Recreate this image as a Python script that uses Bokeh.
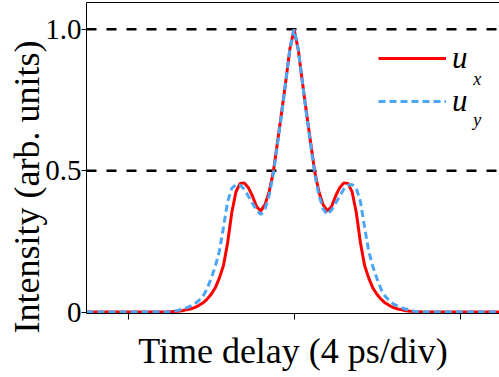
from bokeh.plotting import figure
from bokeh.models import Span, Label, Legend, LegendItem, FixedTicker, Range1d, LinearAxis, Title
from bokeh.embed import file_html
from bokeh.resources import INLINE

# time axis (ps, 4 ps per division)
time_ps = [-5.0, -4.9, -4.8, -4.7, -4.6, -4.5, -4.4, -4.3, -4.2, -4.1,
           -4.0, -3.9, -3.8, -3.7, -3.6, -3.5, -3.4, -3.3, -3.2, -3.1,
           -3.0, -2.9, -2.8, -2.7, -2.6, -2.5, -2.4, -2.3, -2.2, -2.1,
           -2.0, -1.9, -1.8, -1.7, -1.6, -1.5, -1.4, -1.3, -1.2, -1.1,
           -1.0, -0.9, -0.8, -0.7, -0.6, -0.5, -0.4, -0.3, -0.2, -0.1,
           0.0,
           0.1, 0.2, 0.3, 0.4, 0.5, 0.6, 0.7, 0.8, 0.9, 1.0,
           1.1, 1.2, 1.3, 1.4, 1.5, 1.6, 1.7, 1.8, 1.9, 2.0,
           2.1, 2.2, 2.3, 2.4, 2.5, 2.6, 2.7, 2.8, 2.9, 3.0,
           3.1, 3.2, 3.3, 3.4, 3.5, 3.6, 3.7, 3.8, 3.9, 4.0,
           4.1, 4.2, 4.3, 4.4, 4.5, 4.6, 4.7, 4.8, 4.9, 5.0]

u_x = [0, 0, 0, 0, 0, 0, 0, 0, 0, 0,
       0, 0, 0, 0, 0, 0, 0, 0, 0, 0,
       0.001, 0.002, 0.003, 0.005, 0.008, 0.011, 0.016, 0.023, 0.032, 0.045,
       0.062, 0.085, 0.120, 0.165, 0.245, 0.352, 0.425, 0.455, 0.457, 0.440,
       0.410, 0.372, 0.358, 0.380, 0.425, 0.495, 0.600, 0.705, 0.815, 0.930,
       1.000,
       0.930, 0.815, 0.705, 0.600, 0.495, 0.425, 0.380, 0.358, 0.372, 0.410,
       0.440, 0.457, 0.455, 0.425, 0.352, 0.245, 0.165, 0.120, 0.085, 0.062,
       0.045, 0.032, 0.023, 0.016, 0.011, 0.008, 0.005, 0.003, 0.002, 0.001,
       0, 0, 0, 0, 0, 0, 0, 0, 0, 0,
       0, 0, 0, 0, 0, 0, 0, 0, 0, 0]

u_y = [0, 0, 0, 0, 0, 0, 0, 0, 0, 0,
       0, 0, 0, 0, 0, 0, 0, 0, 0, 0,
       0.001, 0.003, 0.006, 0.010, 0.015, 0.021, 0.028, 0.040, 0.055, 0.080,
       0.118, 0.160, 0.215, 0.300, 0.390, 0.438, 0.451, 0.449, 0.435, 0.410,
       0.385, 0.360, 0.345, 0.365, 0.413, 0.487, 0.592, 0.700, 0.815, 0.930,
       1.000,
       0.930, 0.815, 0.700, 0.592, 0.487, 0.413, 0.365, 0.345, 0.360, 0.385,
       0.410, 0.435, 0.449, 0.451, 0.438, 0.390, 0.300, 0.215, 0.160, 0.118,
       0.080, 0.055, 0.040, 0.028, 0.021, 0.015, 0.010, 0.006, 0.003, 0.001,
       0, 0, 0, 0, 0, 0, 0, 0, 0, 0,
       0, 0, 0, 0, 0, 0, 0, 0, 0, 0]

x_ticks = [-4, 0, 4]
x_tick_labels = {-4: "", 0: "", 4: ""}
y_ticks = [0, 0.5, 1.0]
y_tick_labels = {0: "0", 0.5: "0.5", 1: "1.0"}
ref_levels = [0.5, 1.0]
series_names = ["u", "u"]
subscripts = ["x", "y"]
x_title = "Time delay (4 ps/div)"
y_title = "Intensity (arb. units)"

SERIF = "Liberation Serif"

p = figure(width=499, height=377, output_backend="svg", toolbar_location=None,
           x_range=Range1d(-5.0, 4.95), y_range=Range1d(-0.005, 1.095),
           min_border_left=86, min_border_right=0, min_border_top=2,
           min_border_bottom=64)
p.outline_line_color = None
p.background_fill_color = "white"
p.border_fill_color = "white"
p.xgrid.grid_line_color = None
p.ygrid.grid_line_color = None

for lvl in ref_levels:
    p.add_layout(Span(location=lvl, dimension="width", line_color="black",
                      line_width=2.5, line_dash="10 10", level="underlay"))

r_x = p.line(time_ps, u_x, line_color="#ff0000", line_width=3)
r_y = p.line(time_ps, u_y, line_color="#4da6f5", line_width=3, line_dash="7 4")

# axes
xa = p.xaxis[0]
xa.ticker = FixedTicker(ticks=x_ticks)
xa.major_label_overrides = x_tick_labels
xa.major_label_text_font = SERIF
xa.major_label_text_font_size = "10px"
xa.major_label_standoff = 0
xa.minor_tick_line_color = None
xa.major_tick_in = 0
xa.major_tick_out = 6
xa.axis_line_color = "black"
xa.major_tick_line_color = "black"
xa.axis_label = x_title
xa.axis_label_text_font = SERIF
xa.axis_label_text_font_style = "normal"
xa.axis_label_text_font_size = "36px"
xa.axis_label_text_color = "black"
xa.axis_label_standoff = 11

ya = p.yaxis[0]
ya.ticker = FixedTicker(ticks=y_ticks)
ya.major_label_overrides = y_tick_labels
ya.major_label_text_font = SERIF
ya.major_label_text_font_size = "29px"
ya.major_label_text_color = "black"
ya.major_label_standoff = 0
ya.minor_tick_line_color = None
ya.major_tick_in = 0
ya.major_tick_out = 5
ya.axis_line_color = "black"
ya.major_tick_line_color = "black"

# y title as a left-side title, started a little below the frame bottom (as in the reference)
p.add_layout(Title(text=y_title, align="left", offset=-20, standoff=-8,
                   text_font=SERIF, text_font_size="36px",
                   text_font_style="normal", text_color="black"), "left")

top = LinearAxis(ticker=FixedTicker(ticks=[]),
                 major_tick_out=0, major_tick_in=0, major_label_standoff=0,
                 minor_tick_line_color=None, axis_line_color="black")
p.add_layout(top, "above")

legend = Legend(items=[LegendItem(label=series_names[0], renderers=[r_x]),
                       LegendItem(label=series_names[1], renderers=[r_y])],
                location=(292, 194), orientation="vertical",
                glyph_width=68, glyph_height=34, label_height=34,
                label_standoff=6, spacing=7, padding=0, margin=0,
                border_line_color=None, background_fill_alpha=0,
                label_text_font=SERIF, label_text_font_style="italic",
                label_text_font_size="31px", label_text_color="black")
p.add_layout(legend)

sub_pos = [(4.32, 0.826), (4.32, 0.681)]
for (sx, sy), s in zip(sub_pos, subscripts):
    p.add_layout(Label(x=sx, y=sy, text=s, text_font=SERIF,
                       text_font_style="italic", text_font_size="18px",
                       text_color="black", text_baseline="alphabetic"))

open("out.html", "w").write(file_html(p, INLINE))
